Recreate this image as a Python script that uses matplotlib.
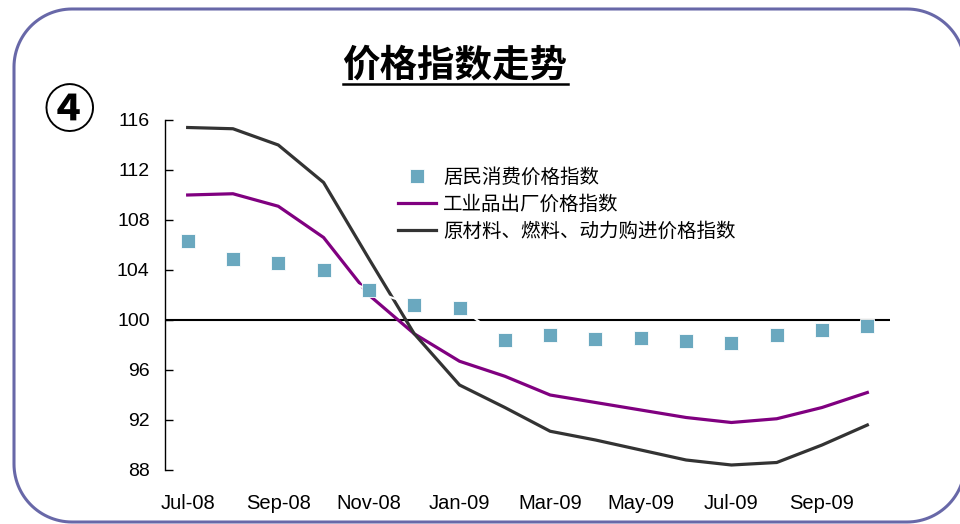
import matplotlib
matplotlib.use('Agg')
import matplotlib.pyplot as plt
from matplotlib.lines import Line2D
import numpy as np

plt.rcParams['font.family'] = ['Liberation Sans', 'Noto Sans CJK SC', 'DejaVu Sans']

months = ['Jul-08', 'Aug-08', 'Sep-08', 'Oct-08', 'Nov-08', 'Dec-08',
          'Jan-09', 'Feb-09', 'Mar-09', 'Apr-09', 'May-09', 'Jun-09',
          'Jul-09', 'Aug-09', 'Sep-09', 'Oct-09']
# 居民消费价格指数
cpi = [106.3, 104.9, 104.6, 104.0, 102.4, 101.2, 101.0, 98.4,
       98.8, 98.5, 98.6, 98.3, 98.2, 98.8, 99.2, 99.5]
# 工业品出厂价格指数
ppi = [110.0, 110.1, 109.1, 106.6, 102.0, 98.9, 96.7, 95.5,
       94.0, 93.4, 92.8, 92.2, 91.8, 92.1, 93.0, 94.2]
# 原材料、燃料、动力购进价格指数
rmpi = [115.4, 115.3, 114.0, 111.0, 104.9, 98.9, 94.8, 93.0,
        91.1, 90.4, 89.6, 88.8, 88.4, 88.6, 90.0, 91.6]
labels = ['居民消费价格指数', '工业品出厂价格指数', '原材料、燃料、动力购进价格指数']
yticks = [88, 92, 96, 100, 104, 108, 112, 116]

x = np.arange(len(months))
W, H = 960, 524

fig = plt.figure(figsize=(9.6, 5.24), dpi=100)
ax = fig.add_axes([165 / W, 1 - 470 / H, 725 / W, 350 / H])

ax.axhline(100, color='black', lw=1.5, zorder=1)
ax.plot(x, ppi, color='#800080', lw=2.3, label=labels[1], zorder=2)
ax.plot(x, rmpi, color='#333333', lw=2.3, label=labels[2], zorder=2)
ax.plot(x, cpi, color='white', lw=1.5, marker='s', ms=9.5, mfc='#6AA8BF',
        mec='white', mew=0.6, label=labels[0], zorder=3)

ax.set_xlim(-0.5, len(months) - 0.5)
ax.set_ylim(88, 116)
ax.set_yticks(yticks)
ax.set_xticks(x[::2])
ax.set_xticklabels(months[::2])
for s in ['top', 'right', 'bottom']:
    ax.spines[s].set_visible(False)
ax.spines['left'].set_linewidth(1)
ax.tick_params(axis='y', direction='in', length=6, width=1, pad=11, labelsize=14)
ax.tick_params(axis='x', length=0, pad=17, labelsize=14.5)

h, l = ax.get_legend_handles_labels()
order = [2, 0, 1]
ax.legend([h[i] for i in order], [l[i] for i in order], loc='upper left',
          bbox_to_anchor=(398 / W, 1 - 167 / H), bbox_transform=fig.transFigure,
          frameon=False, borderpad=0, borderaxespad=0, handlelength=1.95,
          handletextpad=0.36, labelspacing=0.3,
          prop={'family': 'Noto Sans CJK SC', 'size': 14})

# 标题（带下划线）
t = fig.text(455 / W, 1 - 65 / H, '价格指数走势', ha='center', va='center',
             fontsize=27, fontweight='bold', family='Noto Sans CJK SC')
fig.canvas.draw()
bb = t.get_window_extent().transformed(fig.transFigure.inverted())
fig.add_artist(Line2D([bb.x0, bb.x1], [1 - 84 / H, 1 - 84 / H], color='black',
                      lw=1.8, transform=fig.transFigure))

fig.text(69 / W, 1 - 112 / H, '④', ha='center', va='center', fontsize=37,
         fontweight='bold', family='Noto Sans CJK SC')

# 圆角边框 (像素坐标, 右边超出画面)
x0, x1, yt, yb, r = 14, 965, 9, 522, 58
bx, by = [], []
for cx, cy, a0 in [(x1 - r, yt + r, 90), (x0 + r, yt + r, 180),
                   (x0 + r, yb - r, 270), (x1 - r, yb - r, 360)]:
    a = np.radians(np.linspace(a0 - 90, a0, 30))
    bx.extend(cx + r * np.cos(a))
    by.extend(cy - r * np.sin(a))
bx.append(bx[0])
by.append(by[0])
fig.add_artist(Line2D(np.array(bx) / W, 1 - np.array(by) / H, color='#6868A8',
                      lw=2.2, transform=fig.transFigure))

fig.savefig('out.png', dpi=100)
